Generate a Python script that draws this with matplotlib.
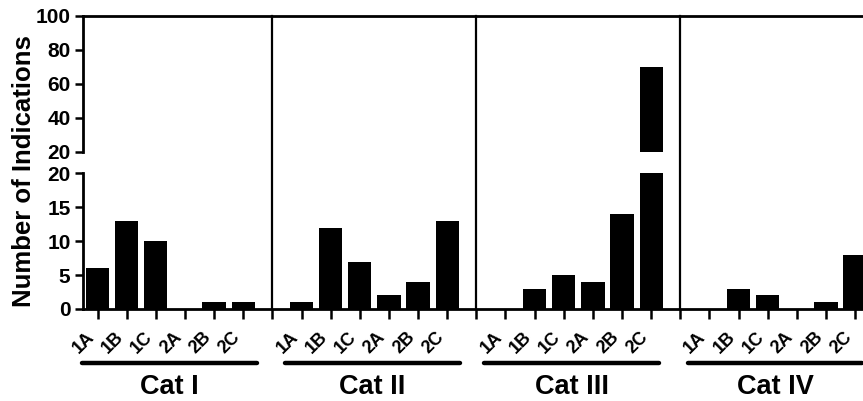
import matplotlib
matplotlib.use("Agg")
import matplotlib.pyplot as plt
import matplotlib.transforms as mtransforms
from matplotlib.lines import Line2D

plt.rcParams['font.family'] = ['Liberation Sans', 'DejaVu Sans']
plt.rcParams['font.weight'] = 'bold'

# ---- data ----
categories = ['Cat I', 'Cat II', 'Cat III', 'Cat IV']
grades = ['1A', '1B', '1C', '2A', '2B', '2C']
cat_i = [6, 13, 10, 0, 1, 1]
cat_ii = [1, 12, 7, 2, 4, 13]
cat_iii = [0, 3, 5, 4, 14, 70]
cat_iv = [0, 3, 2, 0, 1, 8]
series = [cat_i, cat_ii, cat_iii, cat_iv]
low_ticks = [0, 5, 10, 15, 20]
high_ticks = [20, 40, 60, 80, 100]
y_label = 'Number of Indications'

# ---- layout ----
W, H = 863, 401
fig = plt.figure(figsize=(W / 100, H / 100), dpi=100)

left = 83 / W
width = (W - 83) / W
low_bottom = (H - 309) / H
low_height = (309 - 173.3) / H
high_bottom = (H - 151.7) / H
high_height = (151.7 - 15.7) / H

ax_lo = fig.add_axes([left, low_bottom, width, low_height])
ax_hi = fig.add_axes([left, high_bottom, width, high_height])
ax_lo.patch.set_visible(False)
ax_hi.patch.set_visible(False)

slot = len(grades) + 1
xlim = (-0.5, 26.27)
lw_spine = 2.0

for k, vals in enumerate(series):
    xs = [slot * k + i for i in range(len(grades))]
    ax_lo.bar(xs, vals, width=0.8, color='black', edgecolor='black', linewidth=0, zorder=2)
    ax_hi.bar(xs, vals, width=0.8, color='black', edgecolor='black', linewidth=0, zorder=2)

tick_fs = 15
# lower axis
ax_lo.set_xlim(*xlim)
ax_lo.set_ylim(0, 20)
ax_lo.set_yticks(low_ticks)
for s in ['top', 'right']:
    ax_lo.spines[s].set_visible(False)
for s in ['left', 'bottom']:
    ax_lo.spines[s].set_linewidth(lw_spine)
major_x = [slot * k + i for k in range(len(categories)) for i in range(len(grades))]
minor_x = [slot * k - 1 for k in range(1, len(categories))]
ax_lo.set_xticks(major_x)
ax_lo.set_xticklabels(grades * len(categories), rotation=45, ha='right', va='top',
                      fontsize=13, fontweight='bold')
ax_lo.set_xticks(minor_x, minor=True)
ax_lo.tick_params(axis='x', which='both', direction='out', length=7, width=1.8, pad=7)
ax_lo.tick_params(axis='y', direction='out', length=6, width=1.8, pad=3, labelsize=tick_fs)
for t in ax_lo.get_yticklabels():
    t.set_fontweight('bold')

# upper axis
ax_hi.set_xlim(*xlim)
ax_hi.set_ylim(20, 100)
ax_hi.set_yticks(high_ticks)
ax_hi.set_xticks([])
for s in ['bottom', 'right']:
    ax_hi.spines[s].set_visible(False)
for s in ['left', 'top']:
    ax_hi.spines[s].set_linewidth(lw_spine)
ax_hi.tick_params(axis='y', direction='out', length=6, width=1.8, pad=3, labelsize=tick_fs)
for t in ax_hi.get_yticklabels():
    t.set_fontweight('bold')

# separators spanning both panels
ymax_sep = (high_bottom + high_height - low_bottom) / low_height
for xs in minor_x:
    ax_lo.axvline(xs, ymin=0, ymax=ymax_sep, color='black', linewidth=1.6, clip_on=False, zorder=3)

# category underline bars and labels
trans = mtransforms.blended_transform_factory(ax_lo.transData, fig.transFigure)
line_starts = [-0.52, 6.44, 13.27, 20.25]
line_y = (H - 363) / H
label_y = (H - 386.5) / H
for k, name in enumerate(categories):
    x0 = line_starts[k]
    x1 = x0 + 6.0
    ln = Line2D([x0, x1], [line_y, line_y], transform=trans, color='black',
                linewidth=3.2, solid_capstyle='round', clip_on=False)
    fig.add_artist(ln)
    fig.text((x0 + x1) / 2, label_y, name, transform=trans, ha='center', va='center',
             fontsize=19.5, fontweight='bold')

fig.text(24 / W, (H - 171.5) / H, y_label, rotation=90, ha='center', va='center',
         fontsize=18.5, fontweight='bold')

fig.savefig('out.png', dpi=100)
